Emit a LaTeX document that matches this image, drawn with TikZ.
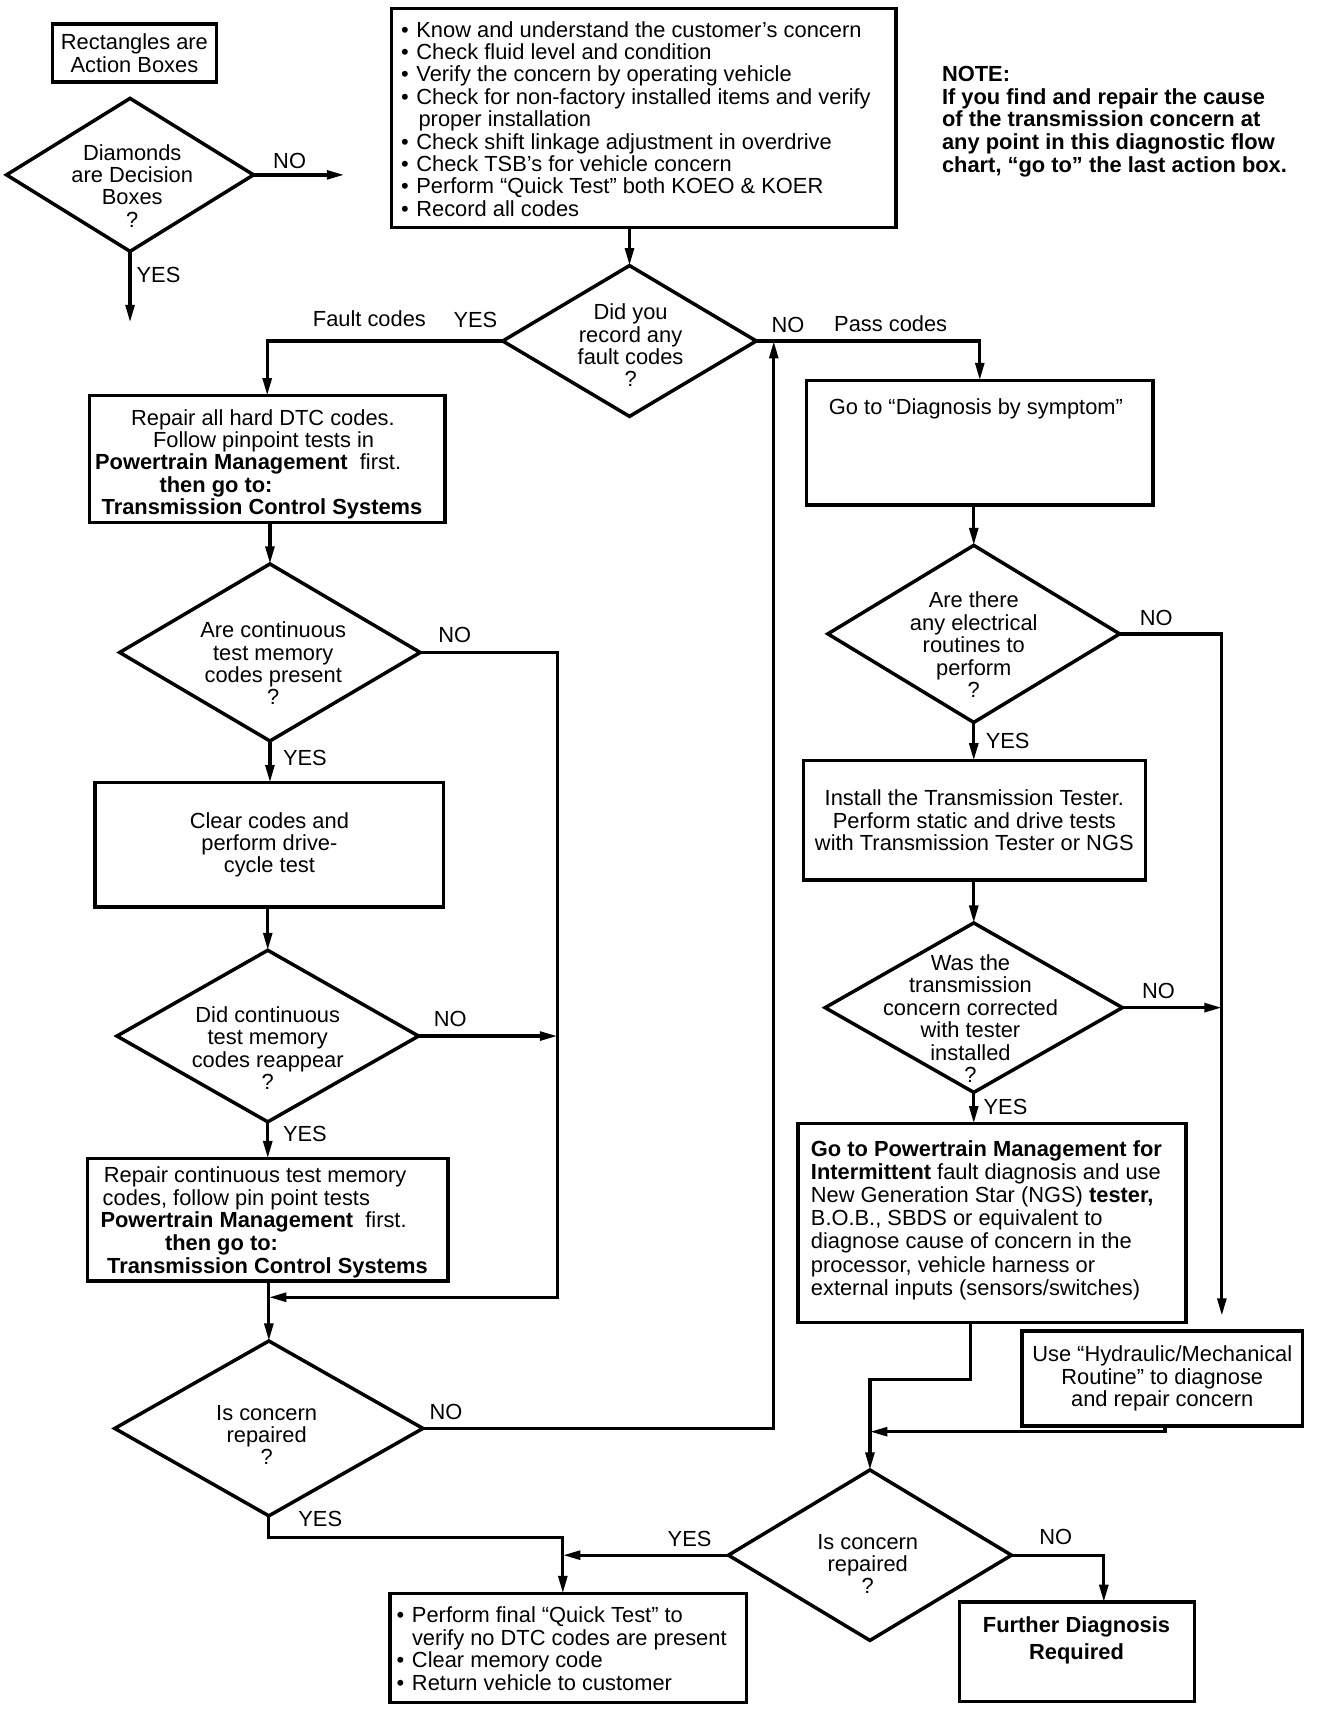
\documentclass[tikz,border=0pt]{standalone}
\usepackage{fontspec}
\setmainfont{Liberation Sans}
\usetikzlibrary{shapes.geometric,arrows.meta}
\newcommand{\blt}{\makebox[14pt][l]{•}}
\begin{document}
\begin{tikzpicture}[x=1pt,y=-1pt,
  every node/.style={font=\fontsize{20}{20.5}\selectfont, inner sep=0pt, outer sep=0pt},
  abox/.style={draw, line width=3.2pt},
  dia/.style={draw, diamond, line width=3.2pt},
  arr/.style={line width=3pt, -{Triangle[length=16pt,width=8pt]}}
]
\useasboundingbox (0,0) rectangle (1215,1566.5);

% legend
\node[abox, minimum width=150pt, minimum height=53pt, align=center] (leg) at (123,48.5) {Rectangles are\\Action Boxes};
\node[dia, minimum width=226pt, minimum height=140pt] (ld) at (119,160) {};
\node[align=center] (ldt) at (121,170) {Diamonds\\are Decision\\Boxes\\?};
\coordinate (ldno) at (315,160);
\coordinate (ldyes) at (119,295);
\draw[arr] (ld.east) -- (ldno);
\draw[arr] (ld.south) -- (ldyes);
\node (ldnol) at (265,147) {NO};
\node (ldyesl) at (145,252) {YES};

% top box
\node[abox, minimum width=462pt, minimum height=200pt] (tb) at (589,108) {};
\node[anchor=north west, align=left] (tbt) at (367,19.5) {\blt Know and understand the customer's concern\\
\blt Check fluid level and condition\\
\blt Verify the concern by operating vehicle\\
\blt Check for non-factory installed items and verify\\
\hspace*{16pt}proper installation\\
\blt Check shift linkage adjustment in overdrive\\
\blt Check TSB's for vehicle concern\\
\blt Perform “Quick Test” both KOEO \& KOER\\
\blt Record all codes};

% note
\node[anchor=north west, align=left, font=\fontsize{20}{20.7}\selectfont\bfseries] (note) at (862,60.7) {NOTE:\\If you find and repair the cause\\of the transmission concern at\\any point in this diagnostic flow\\chart, “go to” the last action box.};

% D1
\node[dia, minimum width=232pt, minimum height=138pt] (d1) at (576,312) {};
\node[align=center] (d1t) at (577,316) {Did you\\record any\\fault codes\\?};

% left column
\node[abox, minimum width=325pt, minimum height=116pt] (b1) at (244.5,420) {};
\node[anchor=north west, align=left] (b1t) at (87,374.5) {\hspace*{33pt}Repair all hard DTC codes.\\
\hspace*{53pt}Follow pinpoint tests in\\
\textbf{Powertrain Management}\ \ first.\\
\hspace*{59pt}\textbf{then go to:}\\
\hspace*{6pt}\textbf{Transmission Control Systems}};

\node[dia, minimum width=275pt, minimum height=162pt] (d2) at (247,597) {};
\node[align=center] (d2t) at (250,607) {Are continuous\\test memory\\codes present\\?};

\node[abox, minimum width=319pt, minimum height=114pt, align=center] (b2) at (246.5,773) {Clear codes and\\perform drive-\\cycle test};

\node[dia, minimum width=276pt, minimum height=157pt] (d3) at (245,948) {};
\node[align=center] (d3t) at (245,959) {Did continuous\\test memory\\codes reappear\\?};

\node[abox, minimum width=330pt, minimum height=112pt] (b3) at (245,1116) {};
\node[anchor=north west, align=left, font=\fontsize{20}{20.75}\selectfont] (b3t) at (92,1067.5) {\hspace*{3pt}Repair continuous test memory\\
\hspace*{2pt}codes, follow pin point tests\\
\textbf{Powertrain Management}\ \ first.\\
\hspace*{59pt}\textbf{then go to:}\\
\hspace*{6pt}\textbf{Transmission Control Systems}};

\node[dia, minimum width=282pt, minimum height=160pt] (d4) at (246,1307) {};
\node[align=center] (d4t) at (244,1313) {Is concern\\repaired\\?};

\node[abox, minimum width=326pt, minimum height=100pt] (b4) at (520,1508) {};
\node[anchor=north west, align=left] (b4t) at (363,1470.5) {\blt Perform final “Quick Test” to\\
\hspace*{14pt}verify no DTC codes are present\\
\blt Clear memory code\\
\blt Return vehicle to customer};

% right column
\node[abox, minimum width=317pt, minimum height=114pt] (b5) at (896.5,405) {};
\node (b5t) at (893,374) {Go to “Diagnosis by symptom”};

\node[dia, minimum width=267pt, minimum height=162pt] (d5) at (891,580) {};
\node[align=center] (d5t) at (891,590) {Are there\\any electrical\\routines to\\perform\\?};

\node[abox, minimum width=313pt, minimum height=109pt, align=center] (b6) at (891.5,750.5) {Install the Transmission Tester.\\Perform static and drive tests\\with Transmission Tester or NGS};

\node[dia, minimum width=272pt, minimum height=155pt] (d6) at (891,922) {};
\node[align=center] (d6t) at (888,932) {Was the\\transmission\\concern corrected\\with tester\\installed\\?};

\node[abox, minimum width=355pt, minimum height=182pt] (b8) at (907.5,1119) {};
\node[anchor=north west, align=left, font=\fontsize{20}{21.2}\selectfont] (b8t) at (742,1043.5) {\textbf{Go to Powertrain Management for}\\
\textbf{Intermittent} fault diagnosis and use\\
New Generation Star (NGS) \textbf{tester,}\\
B.O.B., SBDS or equivalent to\\
diagnose cause of concern in the\\
processor, vehicle harness or\\
external inputs (sensors/switches)};

\node[abox, minimum width=257pt, minimum height=87pt, align=center] (b7) at (1063.5,1261.5) {Use “Hydraulic/Mechanical\\Routine” to diagnose\\and repair concern};

\node[dia, minimum width=259pt, minimum height=156pt] (d7) at (796,1423) {};
\node[align=center] (d7t) at (794,1431) {Is concern\\repaired\\?};

\node[abox, minimum width=215pt, minimum height=91pt] (b9) at (985.5,1511.5) {};
\node[align=center, font=\fontsize{20}{24}\selectfont\bfseries] (b9t) at (985,1501) {Further Diagnosis\\Required};

% coordinates
\coordinate (c1) at (510,597);
\coordinate (c2) at (510,1187);
\coordinate (c3) at (708,1307);
\coordinate (c4) at (515,1407);
\coordinate (c5) at (1118,580);
\coordinate (c5e) at (1118,1204);
\coordinate (c6) at (888,1262);
\coordinate (c7) at (796,1262);
\coordinate (c8) at (1066,1310);
\coordinate (c9) at (1010,1423);

% connectors
\draw[arr] (d1.north |- tb.south) -- (d1.north);
\draw[arr] (d1.west) -| (b1.north);
\draw[arr] (d1.east) -| (b5.north);
\draw[arr] (d2.north |- b1.south) -- (d2.north);
\draw[arr] (d2.south) -- (d2.south |- b2.north);
\draw[arr] (d2.east) -- (c1) -- (c2) -- (c2 -| d4.north);
\draw[arr] (b2.south -| d3.north) -- (d3.north);
\draw[arr] (d3.east) -- (d3.east -| c1);
\draw[arr] (d3.south) -- (d3.south |- b3.north);
\draw[arr] (b3.south -| d4.north) -- (d4.north);
\draw[arr] (d4.east) -- (c3) -- (c3 |- d1.east);
\draw[arr] (d4.south) |- (c4) -- (c4 |- b4.north);
\draw[arr] (b5.south -| d5.north) -- (d5.north);
\draw[arr] (d5.east) -- (c5) -- (c5e);
\draw[arr] (d5.south) -- (d5.south |- b6.north);
\draw[arr] (b6.south -| d6.north) -- (d6.north);
\draw[arr] (d6.east) -- (d6.east -| c5);
\draw[arr] (d6.south) -- (d6.south |- b8.north);
\draw[arr] (c6 |- b8.south) -- (c6) -- (c7) -- (d7.north);
\draw[arr] (c8 |- b7.south) -- (c8) -- (c8 -| d7.north);
\draw[arr] (d7.west) -- (d7.west -| c4);
\draw[arr] (d7.east) -- (c9) -- (c9 |- b9.north);

% labels
\node (fault) at (338,292) {Fault codes};
\node (d1yes) at (435,293) {YES};
\node (d1no) at (721,297) {NO};
\node (pass) at (815,296) {Pass codes};
\node (d2no) at (416,581) {NO};
\node (d2yes) at (279,694) {YES};
\node (d3no) at (412,932) {NO};
\node (d3yes) at (279,1038) {YES};
\node (d4no) at (408,1292) {NO};
\node (d4yes) at (293,1390) {YES};
\node (d5no) at (1058,565) {NO};
\node (d5yes) at (922,678) {YES};
\node (d6no) at (1060,907) {NO};
\node (d6yes) at (920,1013) {YES};
\node (d7yes) at (631,1408) {YES};
\node (d7no) at (966,1406) {NO};
\end{tikzpicture}
\end{document}
